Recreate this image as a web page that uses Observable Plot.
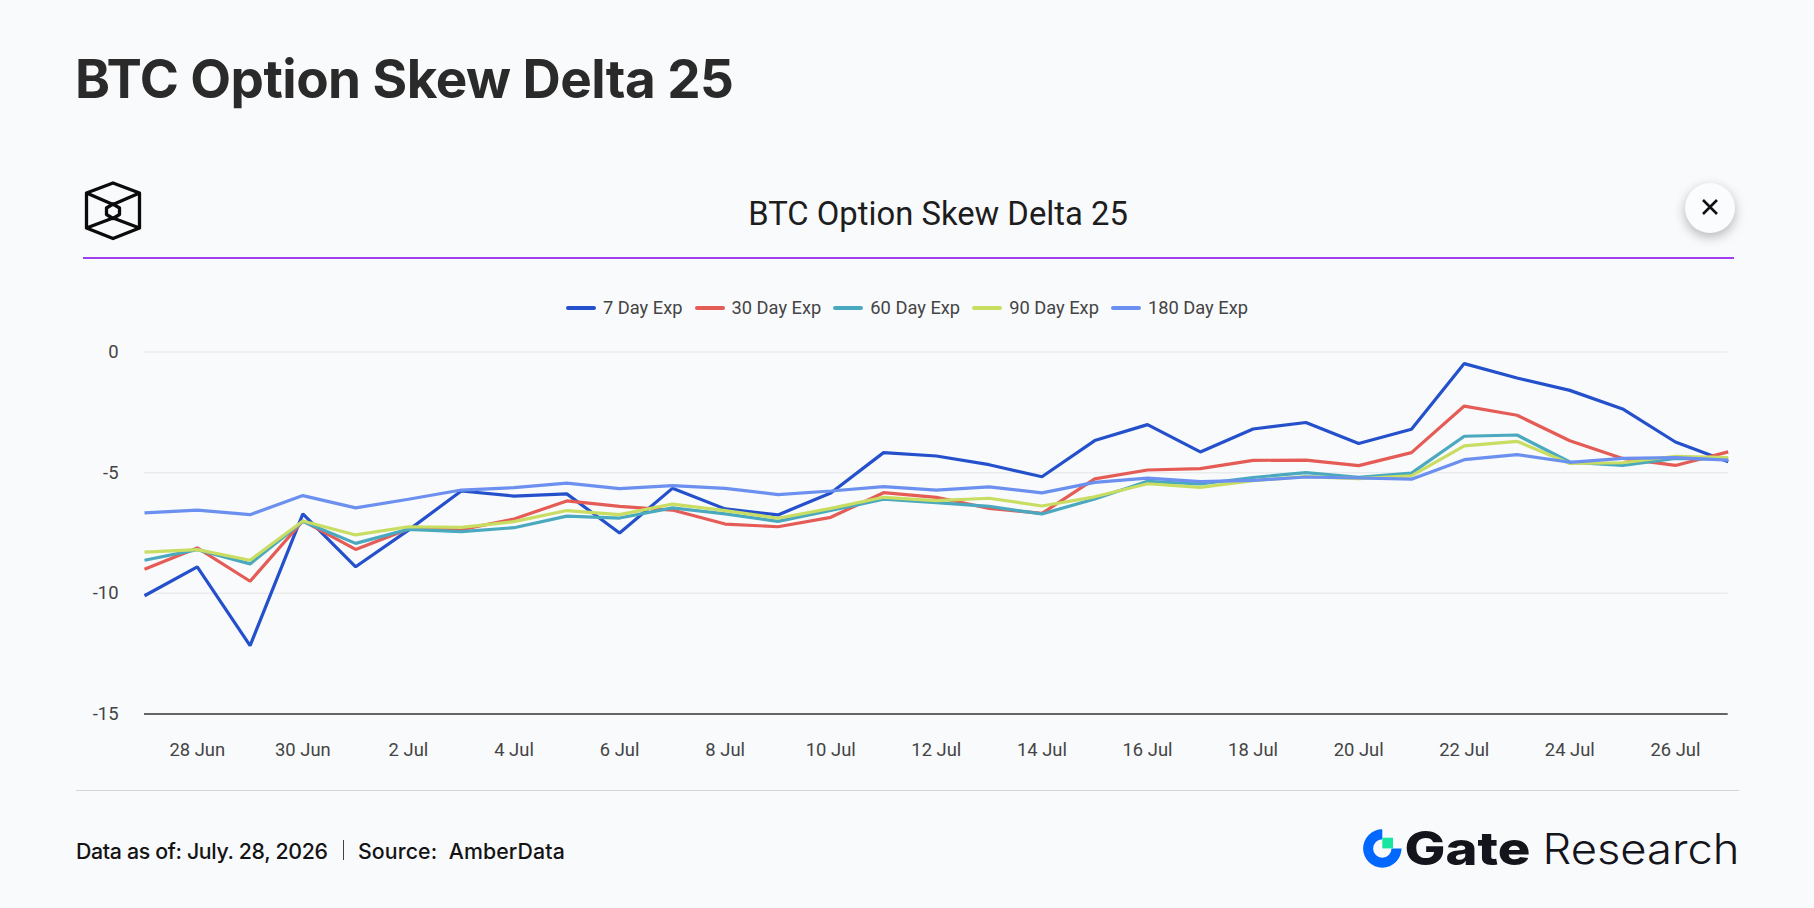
<!DOCTYPE html>
<html>
<head>
<meta charset="utf-8">
<script src="https://cdn.jsdelivr.net/npm/d3@7"></script>
<script src="https://cdn.jsdelivr.net/npm/@observablehq/plot@0.6"></script>
<style>
html,body{margin:0;padding:0;background:#f9fafc;width:1814px;height:908px;overflow:hidden;}
.abs{position:absolute;white-space:nowrap;}
#title{left:75px;top:45px;font:700 53px/68px Inter,sans-serif;color:#2a2a2a;letter-spacing:-0.55px;}
#subtitle{left:0;width:1876px;top:191px;text-align:center;font:400 32.8px/46px Roboto,sans-serif;color:#1d1d1d;}
#rule1{left:83px;top:256.5px;width:1651px;height:2px;background:#a03ff0;}
#rule2{left:76px;top:789.5px;width:1663px;height:1.5px;background:#d2d4d8;}
#legend{left:0;width:1814px;top:295px;display:flex;justify-content:center;font:400 18.3px/26px Roboto,sans-serif;color:#444;}
#legend .it{display:flex;align-items:center;margin:0 6px;}
#legend .sw{width:30px;height:3.2px;border-radius:2px;margin-right:7px;}
#chart{left:0;top:300px;}
#close{left:1685px;top:183px;width:50px;height:50px;border-radius:50%;background:#fbfcfd;box-shadow:0 4px 12px rgba(0,0,0,.28);}
#cap{left:76px;top:836px;font:500 21.3px/30px Inter,sans-serif;color:#141414;letter-spacing:-0.33px;}
#sep{left:342.5px;top:840px;width:1.5px;height:20px;background:#444;}
#src{left:358px;top:836px;font:500 21.3px/30px Inter,sans-serif;color:#141414;letter-spacing:0.1px;}
svg.deco{position:absolute;left:0;top:0;overflow:visible;}
</style>
</head>
<body>
<div class="abs" id="title">BTC Option Skew Delta 25</div>
<div class="abs" id="subtitle">BTC Option Skew Delta 25</div>
<div class="abs" id="rule1"></div>
<div class="abs" id="legend"></div>
<div class="abs" id="chart"></div>
<div class="abs" id="rule2"></div>
<div class="abs" id="close"><svg width="50" height="50"><path d="M18 17 L32 31 M32 17 L18 31" stroke="#111" stroke-width="2.6" fill="none"/></svg></div>
<div class="abs" id="cap">Data as of: July. 28, 2026</div>
<div class="abs" id="sep"></div>
<div class="abs" id="src">Source:&nbsp; AmberData</div>
<svg class="deco" width="1814" height="908">
  <g fill="none" stroke="#0b0b0b" stroke-width="3.3" stroke-linejoin="round">
    <path d="M113 183 L139.5 193 L139.5 228 L113 238.5 L86.5 228 L86.5 193 Z"/>
    <path d="M86.5 193 L113 204.5 L139.5 193 M86.5 228 L113 218 L139.5 228"/>
    <path d="M113 204 L119.5 208 L119.5 214.5 L113 218.5 L106.5 214.5 L106.5 208 Z"/>
  </g>
  <path d="M1382.3 829.3 A19.2 19.2 0 1 0 1401.5 848.5 L1391.5 848.5 A9.2 9.2 0 1 1 1382.3 839.3 Z" fill="#0068ff"/>
  <rect x="1382.3" y="837.7" width="10.7" height="10.7" fill="#17e6a1"/>
  <text x="1404.5" y="864.5" font-family="Inter,sans-serif" font-weight="800" font-size="46" fill="#13141c" textLength="126" lengthAdjust="spacingAndGlyphs">Gate</text>
  <text x="1542.5" y="864" font-family="Inter,sans-serif" font-weight="300" font-size="42" fill="#13141c" textLength="197" lengthAdjust="spacingAndGlyphs">Research</text>
</svg>
<script>
const dates = ["2026-06-27","2026-06-28","2026-06-29","2026-06-30","2026-07-01","2026-07-02","2026-07-03","2026-07-04","2026-07-05","2026-07-06","2026-07-07","2026-07-08","2026-07-09","2026-07-10","2026-07-11","2026-07-12","2026-07-13","2026-07-14","2026-07-15","2026-07-16","2026-07-17","2026-07-18","2026-07-19","2026-07-20","2026-07-21","2026-07-22","2026-07-23","2026-07-24","2026-07-25","2026-07-26","2026-07-27"];
const d7   = [-10.1,-8.9,-12.17,-6.71,-8.9,-7.38,-5.76,-5.97,-5.88,-7.5,-5.65,-6.5,-6.75,-5.84,-4.17,-4.31,-4.67,-5.17,-3.67,-3.01,-4.14,-3.19,-2.92,-3.79,-3.2,-0.48,-1.08,-1.59,-2.36,-3.73,-4.55];
const d30  = [-9.0,-8.12,-9.5,-7.0,-8.18,-7.33,-7.36,-6.92,-6.17,-6.4,-6.55,-7.13,-7.24,-6.85,-5.83,-6.02,-6.48,-6.69,-5.26,-4.89,-4.83,-4.49,-4.48,-4.71,-4.17,-2.24,-2.62,-3.68,-4.41,-4.7,-4.14];
const d60  = [-8.63,-8.19,-8.78,-7.02,-7.93,-7.35,-7.44,-7.28,-6.8,-6.88,-6.46,-6.71,-7.02,-6.57,-6.1,-6.24,-6.4,-6.71,-6.09,-5.36,-5.47,-5.2,-5.0,-5.19,-5.02,-3.49,-3.44,-4.56,-4.7,-4.41,-4.44];
const d90  = [-8.29,-8.19,-8.63,-7.0,-7.58,-7.24,-7.27,-7.03,-6.57,-6.74,-6.3,-6.57,-6.89,-6.48,-6.02,-6.16,-6.06,-6.38,-6.0,-5.46,-5.61,-5.33,-5.16,-5.25,-5.13,-3.89,-3.7,-4.62,-4.59,-4.32,-4.38];
const d180 = [-6.67,-6.55,-6.74,-5.95,-6.46,-6.1,-5.72,-5.62,-5.43,-5.66,-5.54,-5.65,-5.91,-5.76,-5.58,-5.72,-5.59,-5.84,-5.4,-5.23,-5.37,-5.32,-5.18,-5.22,-5.27,-4.46,-4.25,-4.57,-4.41,-4.38,-4.48];
const seriesNames = ["7 Day Exp","30 Day Exp","60 Day Exp","90 Day Exp","180 Day Exp"];
const seriesColors = ["#2450cc","#e55c56","#4aa9bf","#c9dd62","#6b90ef"];
const seriesValues = [d7,d30,d60,d90,d180];
const yTicks = [0,-5,-10,-15];
const xTicks = ["2026-06-28","2026-06-30","2026-07-02","2026-07-04","2026-07-06","2026-07-08","2026-07-10","2026-07-12","2026-07-14","2026-07-16","2026-07-18","2026-07-20","2026-07-22","2026-07-24","2026-07-26"];
const xLabels = ["28 Jun","30 Jun","2 Jul","4 Jul","6 Jul","8 Jul","10 Jul","12 Jul","14 Jul","16 Jul","18 Jul","20 Jul","22 Jul","24 Jul","26 Jul"];

const tickDates = xTicks.map(d => new Date(d));
const rows = seriesNames.flatMap((name,i) => dates.map((d,j) => ({date:new Date(d), value:seriesValues[i][j], series:name})));

const plot = Plot.plot({
  width:1814, height:480,
  marginLeft:144, marginRight:86.3, marginTop:51.5, marginBottom:66.5,
  style:{background:"transparent", fontFamily:"Roboto,sans-serif", fontSize:"18.4px", color:"#444"},
  x:{type:"utc", domain:[new Date(dates[0]), new Date(dates[dates.length-1])]},
  y:{domain:[-15,0]},
  color:{domain:seriesNames, range:seriesColors},
  marks:[
    Plot.gridY(yTicks.slice(0,3), {stroke:"#e9ebec", strokeOpacity:1, strokeWidth:1.5}),
    Plot.ruleY([-15], {stroke:"#333", strokeWidth:1.6}),
    Plot.axisY({ticks:yTicks, tickSize:0, tickPadding:26, label:null, tickFormat:d => String(d).replace("−","-"), fill:"#444"}),
    Plot.axisX({ticks:tickDates, tickSize:0, tickPadding:29, label:null, tickFormat:d => xLabels[xTicks.indexOf(d.toISOString().slice(0,10))], fill:"#444"}),
    Plot.line(rows, {x:"date", y:"value", z:"series", stroke:"series", strokeWidth:3.2, curve:"linear", strokeLinejoin:"miter", strokeLinecap:"butt", clip:false})
  ]
});
document.getElementById("chart").appendChild(plot);

const legend = document.getElementById("legend");
seriesNames.forEach((n,i) => {
  const it = document.createElement("div"); it.className = "it";
  const sw = document.createElement("span"); sw.className = "sw"; sw.style.background = seriesColors[i];
  const t = document.createElement("span"); t.textContent = n;
  it.append(sw,t); legend.append(it);
});
</script>
</body>
</html>
